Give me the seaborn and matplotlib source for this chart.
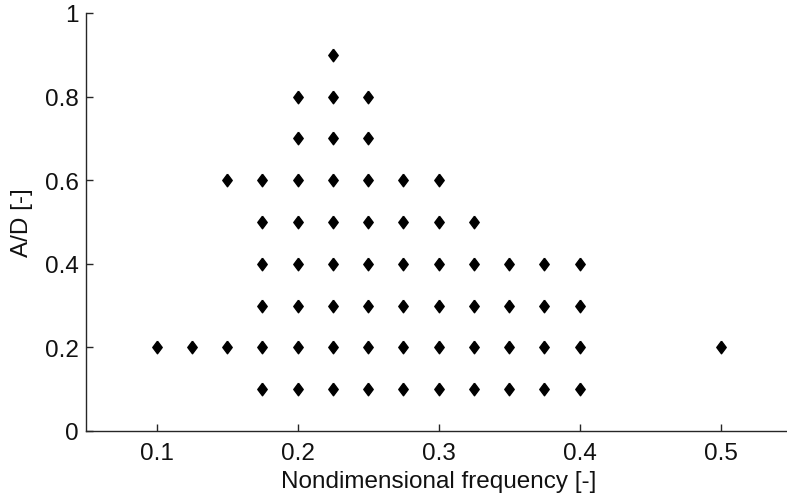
import numpy as np
import pandas as pd
import matplotlib
matplotlib.use("Agg")
import matplotlib.pyplot as plt
import seaborn as sns

# test matrix: nondimensional frequency -> tested amplitude ratios A/D
freqs = [0.1, 0.125, 0.15, 0.175, 0.2, 0.225, 0.25, 0.275, 0.3, 0.325, 0.35, 0.375, 0.4, 0.5]
amps = [
    [0.2],
    [0.2],
    [0.2, 0.6],
    [0.1, 0.2, 0.3, 0.4, 0.5, 0.6],
    [0.1, 0.2, 0.3, 0.4, 0.5, 0.6, 0.7, 0.8],
    [0.1, 0.2, 0.3, 0.4, 0.5, 0.6, 0.7, 0.8, 0.9],
    [0.1, 0.2, 0.3, 0.4, 0.5, 0.6, 0.7, 0.8],
    [0.1, 0.2, 0.3, 0.4, 0.5, 0.6],
    [0.1, 0.2, 0.3, 0.4, 0.5, 0.6],
    [0.1, 0.2, 0.3, 0.4, 0.5],
    [0.1, 0.2, 0.3, 0.4],
    [0.1, 0.2, 0.3, 0.4],
    [0.1, 0.2, 0.3, 0.4],
    [0.2],
]

xticks = [0.1, 0.2, 0.3, 0.4, 0.5]
yticks = [0, 0.2, 0.4, 0.6, 0.8, 1]
ytick_labels = ["0", "0.2", "0.4", "0.6", "0.8", "1"]

rows = [(f, a) for f, lst in zip(freqs, amps) for a in lst]
df = pd.DataFrame(rows, columns=["freq", "ad"])

sns.set_theme(style="white")
plt.rcParams["font.family"] = ["Liberation Sans", "DejaVu Sans"]

fig = plt.figure(figsize=(7.87, 5.02), dpi=100)
ax = fig.add_axes([86 / 787, 70 / 502, 705 / 787, 418 / 502])

# MATLAB-like 'd' marker: a fairly wide diamond
diamond = [(0, 1), (0.75, 0), (0, -1), (-0.75, 0), (0, 1)]
sns.scatterplot(data=df, x="freq", y="ad", marker=diamond, s=82, color="black",
                edgecolor="black", linewidth=1.0, ax=ax, clip_on=False)

ax.set_xlim(0.05, 0.55)
ax.set_ylim(0, 1)
ax.set_xticks(xticks)
ax.set_xticklabels([str(t) for t in xticks])
ax.set_yticks(yticks)
ax.set_yticklabels(ytick_labels)

for side in ["top", "right"]:
    ax.spines[side].set_visible(False)
for side in ["left", "bottom"]:
    ax.spines[side].set_color("#262626")
    ax.spines[side].set_linewidth(1.0)

ax.tick_params(bottom=True, left=True, direction="in", length=5, width=1.0,
               color="#262626", labelsize=17.5, labelcolor="#111111", pad=5)
ax.tick_params(axis="x", pad=8)

ax.set_xlabel("Nondimensional frequency [-]", fontsize=17.5, color="#111111", labelpad=4)
ax.set_ylabel("A/D [-]", fontsize=17.5, color="#111111", labelpad=9)

fig.savefig("out.png", dpi=100)
